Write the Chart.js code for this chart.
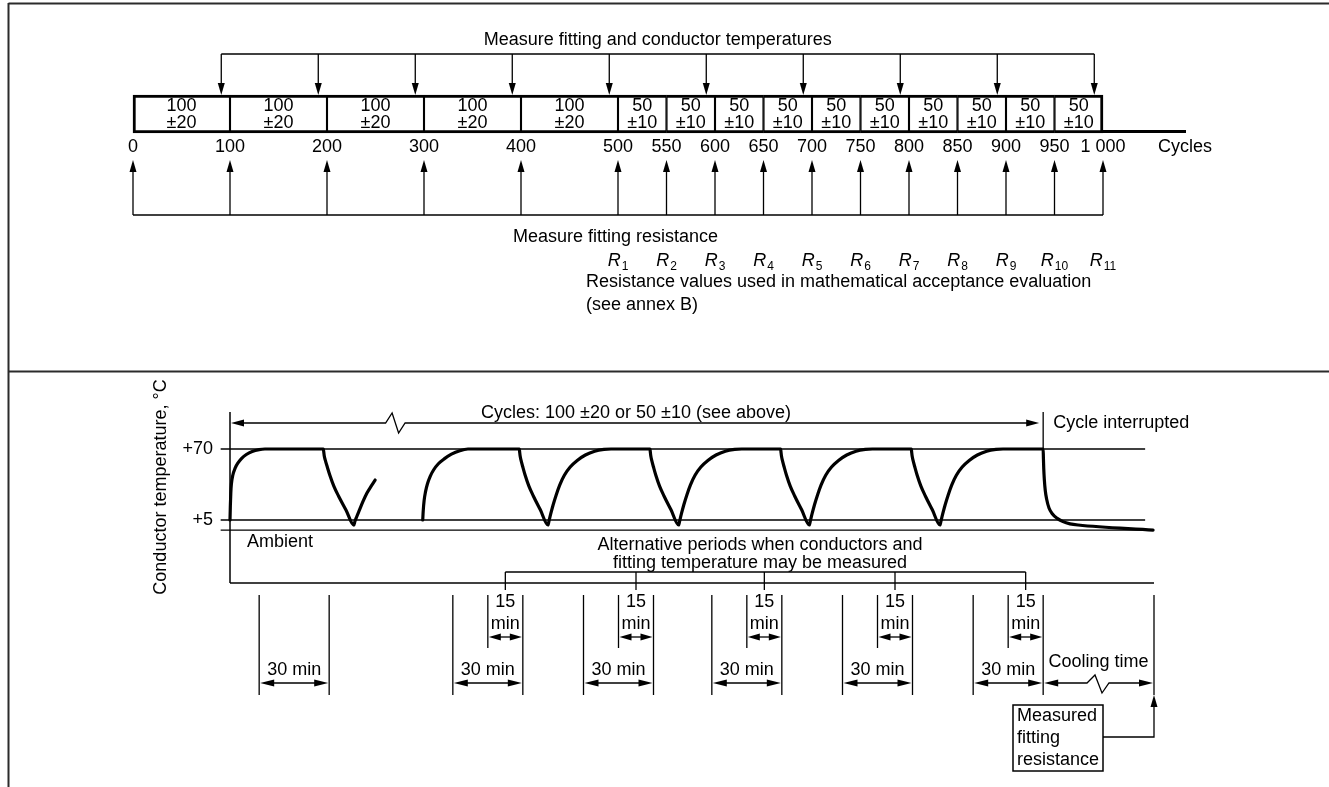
<!DOCTYPE html>
<html><head><meta charset="utf-8">
<script src="https://cdn.jsdelivr.net/npm/chart.js@4.4.1/dist/chart.umd.min.js"></script>
<style>
html,body{margin:0;padding:0;background:#fff;}
#wrap{position:relative;width:1329px;height:787px;overflow:hidden;background:#fff;}
canvas{position:absolute;left:0;top:0;}
</style></head><body>
<div id="wrap"><canvas id="top" width="1329" height="787"></canvas><canvas id="bot" width="1329" height="787"></canvas></div>
<script>
// ---------- top panel data (cycles) ----------
const cycleTicks = [0,100,200,300,400,500,550,600,650,700,750,800,850,900,950,1000];
const cycleTickLabels = ['0','100','200','300','400','500','550','600','650','700','750','800','850','900','950','1 000'];
const segStarts = [0,100,200,300,400,500,550,600,650,700,750,800,850,900,950];
const segEnds   = [100,200,300,400,500,550,600,650,700,750,800,850,900,950,1000];
const segNominal = ['100','100','100','100','100','50','50','50','50','50','50','50','50','50','50'];
const segTolerance = ['±20','±20','±20','±20','±20','±10','±10','±10','±10','±10','±10','±10','±10','±10','±10'];
const tempMeasureCycles = [91,191,291,391,491,591,691,791,891,991];
const resistanceCycles = [0,100,200,300,400,500,550,600,650,700,750,800,850,900,950,1000];
const rCycles = [500,550,600,650,700,750,800,850,900,950,1000];
const rSubscripts = ['1','2','3','4','5','6','7','8','9','10','11'];

// ---------- bottom panel data (time in min, temperature in °C) ----------
const curveTime = [
  0,0.15,0.35,0.6,1.2,2.2,3.5,5,7,9.5,12.5,15, 40,40.2,40.4,40.8,41.7,42.8,44.5,46.5,49.7,53.1, 53.5,54.3,55.5,57,58.7,60.5,62.2,
  72,
  82.6,82.8,83.2,83.8,84.6,85.8,87.3,89.3,91.8,94.9,98.5,102,
  124,124.15,124.35,124.69,125.5,126.5,128.1,130,133,136.3, 136.7,137.5,138.5,139.8,141.3,143.3,145.8,148.8,152.3,156.3,160.3,163.3,
  180,180.15,180.35,180.69,181.5,182.5,184.1,186,189,192.3, 192.7,193.5,194.5,195.8,197.3,199.3,201.8,204.8,208.3,212.3,216.3,219.3,
  236,236.15,236.35,236.69,237.5,238.5,240.1,242,245,248.3, 248.7,249.5,250.5,251.8,253.3,255.3,257.8,260.8,264.3,268.3,272.3,275.3,
  292,292.15,292.35,292.69,293.5,294.5,296.1,298,301,304.3, 304.7,305.5,306.5,307.8,309.3,311.3,313.8,316.8,320.3,324.3,328.3,331.3,
  348.5,348.6,348.75,349,349.4,350,351,352.5,354.5,357,360,363.5,395.6];
const curveTemp = [
  5,18,30,38,46,52.5,57.5,61.5,65,67.8,69.5,70, 70,67,63.5,60,53.5,46,36,27,14.2,0.3, 3.5,8,14.2,22,29.7,36,41.6,
  null,
  5,13,23,31,38,45,51,56.5,61,65.3,68.5,70,
  70,67,63.5,60,53.5,46,36,27,14.3,0.4, 4,11,19,28,37,46,53.5,59.5,64.5,68,69.6,70,
  70,67,63.5,60,53.5,46,36,27,14.3,0.4, 4,11,19,28,37,46,53.5,59.5,64.5,68,69.6,70,
  70,67,63.5,60,53.5,46,36,27,14.3,0.4, 4,11,19,28,37,46,53.5,59.5,64.5,68,69.6,70,
  70,67,63.5,60,53.5,46,36,27,14.3,0.4, 4,11,19,28,37,46,53.5,59.5,64.5,68,69.6,70,
  70,62,52,42,32,24,16,10.5,6.5,3.5,1.5,0.4,-4.2];
const levelValues = [70, 5, -4.2];
const levelLabels = ['+70', '+5', ''];
const levelStart = -4;
const levelEnds = [392.2, 392.2, 395.6];
const cyclesSpan = [0, 348.5];
const cyclesBreak = 69.9;
const window30Start = [12.5,95.5,151.5,206.5,262.5,318.5];
const window30End   = [42.5,125.5,181.5,236.5,292.5,348.5];
const window15Start = [110.5,166.5,221.5,277.5,333.5];
const window15End   = [125.5,181.5,236.5,292.5,348.5];
const coolingSpan = [348.5, 396];
const coolingBreak = 372;

// ---------- helpers ----------
const FONT = '"Liberation Sans", Arial, Helvetica, sans-serif';
function seg(ctx,x1,y1,x2,y2){ctx.beginPath();ctx.moveTo(x1,y1);ctx.lineTo(x2,y2);ctx.stroke();}
function head(ctx,x,y,dir,len,half){
  ctx.beginPath(); ctx.moveTo(x,y);
  if(dir==='down'){ctx.lineTo(x-half,y-len);ctx.lineTo(x+half,y-len);}
  else if(dir==='up'){ctx.lineTo(x-half,y+len);ctx.lineTo(x+half,y+len);}
  else if(dir==='left'){ctx.lineTo(x+len,y-half);ctx.lineTo(x+len,y+half);}
  else {ctx.lineTo(x-len,y-half);ctx.lineTo(x-len,y+half);}
  ctx.closePath(); ctx.fill();
}
function txt(ctx,s,x,y,align){ctx.textAlign=align||'center';ctx.textBaseline='middle';ctx.fillText(s,x,y);}
function dimArrow(ctx,x1,x2,y,len,half){ seg(ctx,x1+len-1,y,x2-len+1,y); head(ctx,x1,y,'left',len,half); head(ctx,x2,y,'right',len,half);}

// ---------- top chart ----------
const topPlugin = {
  id:'topAnno',
  afterDatasetsDraw(chart){
    const ctx = chart.ctx, xs = chart.scales.x, a = chart.chartArea;
    const X = v => xs.getPixelForValue(v);
    ctx.save();
    ctx.strokeStyle = '#2b2b2b'; ctx.lineWidth = 2;
    seg(ctx, 8.5, 3.5, 1329, 3.5);
    seg(ctx, 8.5, 3, 8.5, 787);
    seg(ctx, 8.5, 371.5, 1329, 371.5);
    ctx.strokeStyle = '#000'; ctx.fillStyle = '#000';
    ctx.lineWidth = 3;
    seg(ctx, X(1000)-1, a.bottom-1.5, X(1000)+83, a.bottom-1.5);
    ctx.font = '18px ' + FONT;
    segStarts.forEach((s,i)=>{
      const cx = (X(s)+X(segEnds[i]))/2;
      txt(ctx, segNominal[i], cx, a.top+11);
      txt(ctx, segTolerance[i], cx, a.top+28);
    });
    cycleTicks.forEach((c,i)=> txt(ctx, cycleTickLabels[i], X(c), a.bottom+14));
    txt(ctx, 'Cycles', X(1000)+55, a.bottom+14, 'left');
    ctx.lineWidth = 1.3;
    const yB = 54;
    seg(ctx, X(tempMeasureCycles[0]), yB, X(tempMeasureCycles[tempMeasureCycles.length-1]), yB);
    tempMeasureCycles.forEach(c=>{ seg(ctx, X(c), yB, X(c), a.top-10); head(ctx, X(c), a.top, 'down', 12, 3.5); });
    txt(ctx, 'Measure fitting and conductor temperatures',
      (X(tempMeasureCycles[0])+X(tempMeasureCycles[tempMeasureCycles.length-1]))/2, 40);
    const yR = 215;
    seg(ctx, X(resistanceCycles[0]), yR, X(resistanceCycles[resistanceCycles.length-1]), yR);
    resistanceCycles.forEach(c=>{ seg(ctx, X(c), yR, X(c), 170); head(ctx, X(c), 160, 'up', 12, 3.5); });
    txt(ctx, 'Measure fitting resistance', 513, 237, 'left');
    rCycles.forEach((c,i)=>{
      ctx.font = 'italic 18px ' + FONT;
      const wR = ctx.measureText('R').width;
      ctx.font = '12px ' + FONT;
      const wS = ctx.measureText(rSubscripts[i]).width;
      const x0 = X(c) - (wR + 1 + wS)/2;
      ctx.font = 'italic 18px ' + FONT;
      txt(ctx, 'R', x0, 261, 'left');
      ctx.font = '12px ' + FONT;
      txt(ctx, rSubscripts[i], x0 + wR + 1, 267, 'left');
    });
    ctx.font = '18px ' + FONT;
    txt(ctx, 'Resistance values used in mathematical acceptance evaluation', 586, 282, 'left');
    txt(ctx, '(see annex B)', 586, 305, 'left');
    ctx.restore();
  }
};

new Chart(document.getElementById('top'), {
  type: 'bar',
  data: {
    labels: ['cycles'],
    datasets: [{
      data: segStarts.map((s,i)=>({x:[s, segEnds[i]], y:'cycles'})),
      backgroundColor: '#fff',
      borderColor: '#000',
      borderWidth: c => ({top:3, bottom:3, left: c.dataIndex===0 ? 3 : 1.4, right: c.dataIndex===segStarts.length-1 ? 3 : 1.4}),
      borderSkipped: false,
      barPercentage: 1,
      categoryPercentage: 1,
      clip: false
    }]
  },
  options: {
    indexAxis: 'y',
    responsive: false,
    animation: false,
    devicePixelRatio: 1,
    events: [],
    layout: {padding: {left:133, right:226, top:95, bottom:654}},
    plugins: {legend:{display:false}, tooltip:{enabled:false}},
    scales: {
      x: {type:'linear', min:0, max:1000, display:false},
      y: {type:'category', display:false}
    }
  },
  plugins: [topPlugin]
});

// ---------- bottom chart ----------
const botPlugin = {
  id:'botAnno',
  afterDatasetsDraw(chart){
    const ctx = chart.ctx, xs = chart.scales.x, ys = chart.scales.y, a = chart.chartArea;
    const X = v => xs.getPixelForValue(v), Y = v => ys.getPixelForValue(v);
    ctx.save();
    ctx.strokeStyle = '#000'; ctx.fillStyle = '#000';
    ctx.lineWidth = 1.5;
    seg(ctx, X(0), a.top, X(0), a.bottom);
    seg(ctx, X(0), a.bottom, a.right, a.bottom);
    ctx.font = '18px ' + FONT;
    levelValues.forEach((v,i)=>{ if(levelLabels[i]) txt(ctx, levelLabels[i], 213, Y(v), 'right'); });
    txt(ctx, 'Ambient', 247, 542, 'left');
    ctx.save(); ctx.translate(161, 487); ctx.rotate(-Math.PI/2);
    txt(ctx, 'Conductor temperature, °C', 0, 0); ctx.restore();
    ctx.lineWidth = 1.3;
    const yA = a.top + 11;
    const xb = X(cyclesBreak);
    ctx.beginPath();
    ctx.moveTo(X(cyclesSpan[0])+12, yA);
    ctx.lineTo(xb-7.5, yA); ctx.lineTo(xb-1, yA-10); ctx.lineTo(xb+5.5, yA+10); ctx.lineTo(xb+12, yA);
    ctx.lineTo(X(cyclesSpan[1])-16, yA);
    ctx.stroke();
    head(ctx, X(cyclesSpan[0])+1, yA, 'left', 13, 3.5);
    head(ctx, X(cyclesSpan[1])-4, yA, 'right', 13, 3.5);
    seg(ctx, X(cyclesSpan[1]), a.top, X(cyclesSpan[1]), Y(70));
    txt(ctx, 'Cycles: 100 ±20 or 50 ±10 (see above)', 636, yA-10);
    txt(ctx, 'Cycle interrupted', X(cyclesSpan[1])+10, yA, 'left');
    const c15 = window15Start.map((s,i)=>(s+window15End[i])/2);
    txt(ctx, 'Alternative periods when conductors and', 760, 545);
    txt(ctx, 'fitting temperature may be measured', 760, 563);
    const yb = a.bottom - 11;
    seg(ctx, X(c15[0]), yb, X(c15[c15.length-1]), yb);
    c15.forEach(c=> seg(ctx, X(c), yb, X(c), a.bottom+7));
    const yTop = 595, yBot = 695;
    window30Start.forEach((s,i)=>{
      const e = window30End[i];
      seg(ctx, X(s), yTop, X(s), yBot);
      seg(ctx, X(e), yTop, X(e), yBot);
      dimArrow(ctx, X(s)+1, X(e)-1, 683, 14, 3.5);
      txt(ctx, '30 min', (X(s)+X(e))/2, 670);
    });
    window15Start.forEach((s,i)=>{
      const e = window15End[i];
      seg(ctx, X(s), yTop, X(s), 648);
      dimArrow(ctx, X(s)+1, X(e)-1, 637, 12, 3.5);
      txt(ctx, '15', (X(s)+X(e))/2, 602);
      txt(ctx, 'min', (X(s)+X(e))/2, 624);
    });
    const xc0 = X(coolingSpan[0]), xc1 = X(coolingSpan[1]), xcb = X(coolingBreak);
    seg(ctx, xc1, yTop, xc1, yBot);
    ctx.beginPath();
    ctx.moveTo(xc0+12, 683); ctx.lineTo(xcb-11, 683); ctx.lineTo(xcb-3, 675); ctx.lineTo(xcb+4, 693); ctx.lineTo(xcb+11, 683); ctx.lineTo(xc1-12, 683);
    ctx.stroke();
    head(ctx, xc0+1, 683, 'left', 14, 3.5);
    head(ctx, xc1-1, 683, 'right', 14, 3.5);
    txt(ctx, 'Cooling time', (xc0+xc1)/2, 662);
    ctx.lineWidth = 1.5;
    ctx.strokeRect(1013, 705, 90, 66);
    txt(ctx, 'Measured', 1017, 716, 'left');
    txt(ctx, 'fitting', 1017, 738, 'left');
    txt(ctx, 'resistance', 1017, 760, 'left');
    ctx.lineWidth = 1.3;
    ctx.beginPath(); ctx.moveTo(1103, 737); ctx.lineTo(xc1, 737); ctx.lineTo(xc1, 706); ctx.stroke();
    head(ctx, xc1, 695, 'up', 12, 3.5);
    ctx.restore();
  }
};

const levelDatasets = levelValues.map((v,i)=>({
  data: [{x:levelStart, y:v}, {x:levelEnds[i], y:v}],
  borderColor:'#000', borderWidth:1.3, pointRadius:0, clip:false, tension:0
}));

new Chart(document.getElementById('bot'), {
  type: 'line',
  data: {
    datasets: [
      ...levelDatasets,
      {
        data: curveTime.map((t,i)=>({x:t, y:curveTemp[i]})),
        borderColor:'#000', borderWidth:3.2, pointRadius:0, clip:false,
        cubicInterpolationMode:'monotone', spanGaps:false,
        borderCapStyle:'round', borderJoinStyle:'round'
      }
    ]
  },
  options: {
    responsive:false, animation:false, devicePixelRatio:1, events:[],
    layout: {padding: {left:230, right:175, top:412, bottom:204}},
    plugins: {legend:{display:false}, tooltip:{enabled:false}},
    scales: {
      x: {type:'linear', min:0, max:396, display:false},
      y: {type:'linear', min:-52.7, max:103.9, display:false}
    }
  },
  plugins: [botPlugin]
});
</script>
</body></html>
